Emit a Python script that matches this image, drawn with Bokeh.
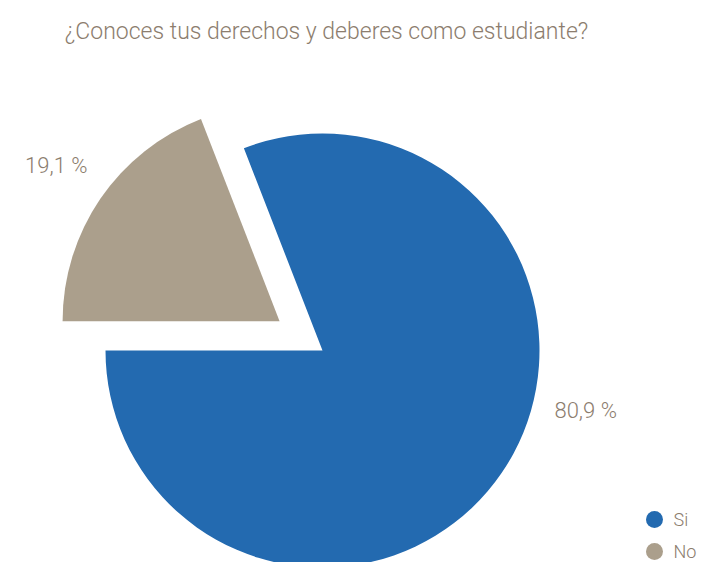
import numpy as np
from bokeh.plotting import figure
from bokeh.models import Label, ColumnDataSource, Range1d
from bokeh.core.properties import value
from bokeh.embed import file_html
from bokeh.resources import INLINE

title_text = "¿Conoces tus derechos y deberes como estudiante?"
categories = ["Si", "No"]
percentages = [80.9, 19.1]
label_texts = ["80,9 %", "19,1 %"]
colors = ["#236AB0", "#AB9F8C"]
text_color = "#8C7D6E"
FONT = "Roboto Light, Roboto, sans-serif"

W, H = 699, 562
p = figure(width=W, height=H, output_backend="svg", toolbar_location=None,
           x_range=Range1d(0, W), y_range=Range1d(0, H), min_border=0)
p.axis.visible = False
p.grid.visible = False
p.outline_line_color = None
p.background_fill_color = "white"
p.border_fill_color = "white"

cx, cy, R = 322, 212, 217
explode = [0, 52]

vals = np.array(percentages) / 100.0
start0 = np.pi  # start at 180 degrees, counterclockwise
starts = start0 + np.concatenate([[0], np.cumsum(vals)[:-1]]) * 2 * np.pi
ends = start0 + np.cumsum(vals) * 2 * np.pi
mids = (starts + ends) / 2
xs = cx + np.array(explode) * np.cos(mids)
ys = cy + np.array(explode) * np.sin(mids)

src = ColumnDataSource(dict(x=xs, y=ys, start=starts, end=ends, color=colors))
p.wedge(x="x", y="y", radius=R, start_angle="start", end_angle="end",
        fill_color="color", line_color=None, source=src, direction="anticlock")

# slice labels
label_angles = [np.deg2rad(-12.9), np.deg2rad(145.2)]
label_r = [270, 272]
for i in range(2):
    lx = xs[i] + label_r[i] * np.cos(label_angles[i])
    ly = ys[i] + label_r[i] * np.sin(label_angles[i])
    p.add_layout(Label(x=lx, y=ly, text=label_texts[i], text_font=FONT,
                       text_font_size="22px", text_color=text_color,
                       text_align="center", text_baseline="middle"))

# title
p.add_layout(Label(x=326, y=H - 31, text=title_text, text_font=FONT,
                   text_font_size="23px", text_color=text_color,
                   text_align="center", text_baseline="alphabetic"))

# legend
leg_y = [H - 519, H - 551]
p.scatter(x=[654, 654], y=leg_y, size=17, marker="circle", color=colors, line_color=None)
p.text(x=[673, 673], y=leg_y, text=categories, text_font=value(FONT),
       text_font_size="18px", text_color=text_color, text_baseline="middle")

open("out.html", "w").write(file_html(p, INLINE))
